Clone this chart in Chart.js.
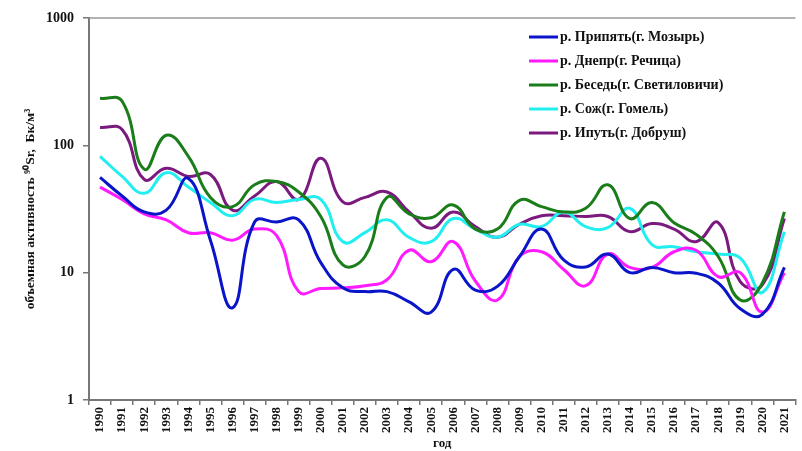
<!DOCTYPE html>
<html>
<head>
<meta charset="utf-8">
<script src="https://cdn.jsdelivr.net/npm/chart.js@4/dist/chart.umd.min.js"></script>
<style>
  html, body { margin: 0; padding: 0; background: #fff; }
  #wrap { width: 802px; height: 451px; }
</style>
</head>
<body>
<div id="wrap"><canvas id="sr90Chart" width="802" height="451"></canvas></div>
<script>
const years = ['1990','1991','1992','1993','1994','1995','1996','1997','1998','1999','2000','2001','2002','2003','2004','2005','2006','2007','2008','2009','2010','2011','2012','2013','2014','2015','2016','2017','2018','2019','2020','2021'];

const pripyat = [56, 40, 30, 31, 55, 18, 5.3, 25, 25, 26, 12, 7.6, 7.1, 7.1, 5.9, 4.9, 10.6, 7.3, 7.8, 13.4, 22, 12.6, 11.1, 14, 10, 11, 10, 9.9, 8.3, 5.2, 4.7, 11];
const dnepr   = [47, 37.6, 29, 26, 20.6, 20.6, 18, 22, 19.5, 7.1, 7.5, 7.6, 7.9, 8.8, 15, 12.2, 17.5, 8.6, 6.1, 13.4, 14.6, 10.6, 7.9, 14, 11, 11, 14.6, 15, 9.3, 10, 4.9, 10];
const besed   = [234, 222, 65, 120, 82, 39, 33, 49, 52, 43, 27.6, 11.5, 13.4, 39, 29, 27, 34, 22, 22, 37, 33, 30, 32, 49, 26.6, 35.6, 24.7, 20, 13.4, 6.1, 8.3, 30];
const sozh    = [82, 57, 42, 61, 47, 35.6, 28, 37.6, 35.6, 37.6, 37.6, 17.5, 20.6, 26, 18.9, 17.5, 26.6, 22, 19, 24, 23, 30, 23, 22.6, 32, 16.6, 16, 14.6, 14, 13, 7, 21];
const iput    = [138, 133, 54, 66, 57, 59, 31, 40, 52, 37.6, 79, 36, 39, 43, 30, 22.3, 30, 23, 19, 24, 28, 28, 27.6, 27.6, 21, 24.3, 22, 17.5, 24.7, 8.5, 8, 26.6];

const seriesNames = ['р. Припять(г. Мозырь)', 'р. Днепр(г. Речица)', 'р. Беседь(г. Светиловичи)', 'р. Сож(г. Гомель)', 'р. Ипуть(г. Добруш)'];
const seriesColors = ['#0a14c8', '#ff1aff', '#1a7d1a', '#22eef0', '#7a1a7e'];
const yTickValues = [1, 10, 100, 1000];

const serif = "'Liberation Serif', 'Times New Roman', serif";

function makeDataset(label, data, color) {
  return {
    label: label,
    data: data,
    borderColor: color,
    backgroundColor: color,
    borderWidth: 3,
    pointRadius: 0,
    tension: 0.45,
    fill: false,
  };
}

// legend drawn inside the plot, top right
const innerLegend = {
  id: 'innerLegend',
  afterDraw(chart) {
    const ctx = chart.ctx;
    ctx.save();
    ctx.font = 'bold 14px ' + serif;
    ctx.textBaseline = 'middle';
    ctx.fillStyle = '#111';
    chart.data.datasets.forEach((ds, i) => {
      const y = 37 + i * 24;
      ctx.strokeStyle = ds.borderColor;
      ctx.lineWidth = 3;
      ctx.beginPath();
      ctx.moveTo(529, y);
      ctx.lineTo(558, y);
      ctx.stroke();
      ctx.fillText(ds.label, 560, y);
    });
    ctx.restore();
  }
};

const topBorder = {
  id: 'topBorder',
  afterDraw(chart) {
    const a = chart.chartArea;
    const ctx = chart.ctx;
    ctx.save();
    ctx.strokeStyle = '#999';
    ctx.lineWidth = 1.5;
    ctx.beginPath();
    ctx.moveTo(a.left, a.top);
    ctx.lineTo(a.right, a.top);
    ctx.stroke();
    ctx.restore();
  }
};

document.addEventListener('DOMContentLoaded', () => {
  const ctx = document.getElementById('sr90Chart').getContext('2d');
  new Chart(ctx, {
    type: 'line',
    data: {
      labels: years,
      datasets: [
        makeDataset(seriesNames[0], pripyat, seriesColors[0]),
        makeDataset(seriesNames[1], dnepr, seriesColors[1]),
        makeDataset(seriesNames[2], besed, seriesColors[2]),
        makeDataset(seriesNames[3], sozh, seriesColors[3]),
        makeDataset(seriesNames[4], iput, seriesColors[4]),
      ],
    },
    options: {
      responsive: false,
      animation: false,
      layout: { padding: { top: 18, right: 0, left: 0, bottom: 0 } },
      plugins: {
        legend: { display: false },
        tooltip: { enabled: false },
      },
      scales: {
        x: {
          offset: true,
          grid: { offset: true, drawOnChartArea: false, tickLength: 5, color: '#777', lineWidth: 1.5 },
          border: { color: '#777', width: 2 },
          ticks: {
            autoSkip: false,
            minRotation: 90,
            maxRotation: 90,
            padding: 2,
            color: '#111',
            font: { family: serif, weight: 'bold', size: 13 },
          },
          title: {
            display: true,
            text: 'год',
            color: '#111',
            padding: { top: 0, bottom: 0 },
            font: { family: serif, weight: 'bold', size: 13 },
          },
          afterFit(scale) { scale.height = 51; },
        },
        y: {
          type: 'logarithmic',
          min: 1,
          max: 1000,
          afterBuildTicks(scale) {
            scale.ticks = yTickValues.map(v => ({ value: v }));
          },
          grid: { drawOnChartArea: false, tickLength: 6, color: '#777', lineWidth: 1.5 },
          border: { color: '#777', width: 2 },
          ticks: {
            color: '#111',
            padding: 9,
            font: { family: serif, weight: 'bold', size: 14 },
            callback: (v) => String(v),
          },
          title: {
            display: true,
            text: 'объемная активность ⁹⁰Sr,  Бк/м³',
            color: '#111',
            padding: { top: 22, bottom: 0 },
            font: { family: serif, weight: 'bold', size: 13.5 },
          },
          afterFit(scale) { scale.width = 89; },
        },
      },
    },
    plugins: [innerLegend, topBorder],
  });
});
</script>
</body>
</html>
